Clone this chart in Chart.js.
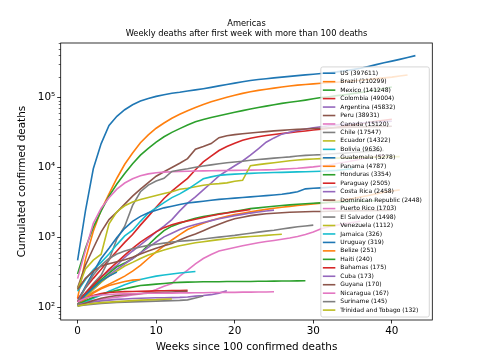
<!DOCTYPE html>
<html lang="en">
<head>
    <meta charset="UTF-8">
    <title>Americas weekly deaths</title>
    <style>
        html, body { margin: 0; padding: 0; background: #fff; }
        #wrap { width: 480px; height: 360px; }
    </style>
</head>
<body>
    <div id="wrap"><canvas id="chart" width="480" height="360"></canvas></div>
    <script src="https://cdn.jsdelivr.net/npm/chart.js@4.4.1/dist/chart.umd.min.js"></script>
    <script>
        // Countries, in legend order
        const countries = ["US", "Brazil", "Mexico", "Colombia", "Argentina", "Peru", "Canada", "Chile",
            "Ecuador", "Bolivia", "Guatemala", "Panama", "Honduras", "Paraguay", "Costa Rica",
            "Dominican Republic", "Puerto Rico", "El Salvador", "Venezuela", "Jamaica", "Uruguay",
            "Belize", "Haiti", "Bahamas", "Cuba", "Guyana", "Nicaragua", "Suriname", "Trinidad and Tobago"];

        // Cumulated deaths, one value per week since the first week over 100 deaths
        const usDeaths = [470, 2400, 9600, 22000, 40000, 54000, 67000, 79000, 89000, 97000, 104000, 110000, 115000, 119000, 124000, 129000, 134000, 140000, 147000, 154000, 161000, 168000, 175000, 181000, 186000, 191000, 196000, 201000, 206000, 211000, 216000, 221000, 227000, 233000, 241000, 251000, 262000, 278000, 296000, 314000, 332000, 352000, 375000, 397611];
        const brazilDeaths = [136, 486, 1223, 2462, 4205, 7025, 11123, 16118, 22666, 29314, 36455, 43332, 50617, 57622, 64867, 72100, 79488, 87004, 94104, 101049, 107852, 114744, 120828, 126650, 131625, 136532, 141406, 146352, 150488, 154176, 157134, 160074, 162628, 165798, 169485, 172833, 176628, 181402, 186764, 191139, 196018, 203100, 210299];
        const mexicoDeaths = [300, 700, 1400, 2400, 3900, 5800, 8200, 11300, 15000, 18800, 23000, 27500, 31800, 36000, 40500, 45000, 48500, 51800, 55000, 58300, 61800, 65000, 68500, 72000, 75500, 79000, 82500, 85500, 88500, 92000, 96000, 100000, 103000, 106500, 110000, 114000, 118500, 123000, 128500, 134500, 141248];
        const colombiaDeaths = [130, 190, 260, 350, 480, 640, 850, 1100, 1500, 2000, 2700, 3600, 4600, 5700, 7000, 9300, 12000, 14500, 17500, 20000, 22300, 24500, 26200, 27500, 28700, 29700, 30600, 31500, 32400, 33300, 34300, 35300, 36400, 37600, 39000, 40600, 42300, 44000, 45700, 47300, 49004];
        const argentinaDeaths = [110, 150, 210, 270, 330, 400, 520, 640, 780, 960, 1200, 1450, 1800, 2400, 3100, 3800, 4800, 6000, 7600, 9000, 10600, 12400, 15000, 18500, 23000, 26500, 30000, 32000, 34000, 35500, 37000, 38300, 39600, 40700, 41700, 42600, 43400, 44100, 44700, 45300, 45832];
        const peruDeaths = [190, 400, 700, 1200, 1800, 2300, 3000, 3900, 4900, 6100, 7500, 8700, 10000, 11500, 13400, 18300, 20000, 22000, 26700, 28500, 29500, 30400, 31200, 31900, 32600, 33400, 34000, 34600, 35100, 35600, 36100, 36500, 36900, 37200, 37500, 37800, 38000, 38200, 38400, 38650, 38931];
        const canadaDeaths = [258, 653, 1590, 2620, 3700, 4900, 6000, 6900, 7600, 8100, 8400, 8600, 8700, 8800, 8850, 8900, 8940, 8980, 9020, 9060, 9100, 9140, 9160, 9200, 9240, 9290, 9480, 9610, 9760, 9970, 10210, 10520, 10890, 11410, 11890, 12470, 13110, 13800, 14480, 15120];
        const chileDeaths = [120, 160, 220, 290, 480, 950, 1450, 2870, 4500, 5600, 6400, 7000, 8800, 9200, 9600, 10100, 10500, 10900, 11300, 11700, 12000, 12300, 12700, 13000, 13300, 13600, 13900, 14200, 14600, 14900, 15100, 15300, 15600, 15850, 16050, 16400, 16700, 17000, 17300, 17547];
        const ecuadorDeaths = [180, 355, 474, 576, 1569, 2334, 2839, 3203, 3486, 3720, 3970, 4256, 4502, 4900, 5063, 5313, 5584, 5767, 5877, 6031, 6352, 6571, 10627, 10996, 11355, 11700, 12100, 12500, 12800, 13050, 13250, 13400, 13520, 13630, 13730, 13820, 13910, 14000, 14080, 14160, 14240, 14322];
        const boliviaDeaths = [170, 250, 345, 440, 580, 790, 1050, 1270, 1700, 2220, 2650, 3150, 3710, 4200, 4880, 5800, 6900, 7340, 7730, 7900, 8050, 8150, 8250, 8330, 8400, 8470, 8530, 8590, 8650, 8710, 8770, 8850, 8960, 9100, 9350, 9636];
        const guatemalaDeaths = [120, 200, 320, 500, 700, 1000, 1350, 1700, 2000, 2250, 2450, 2650, 2800, 2950, 3100, 3200, 3300, 3400, 3500, 3580, 3650, 3720, 3800, 3880, 3960, 4050, 4150, 4300, 4500, 4950, 5050, 5120, 5200, 5278];
        const panamaDeaths = [110, 140, 165, 190, 215, 245, 280, 330, 400, 500, 620, 760, 920, 1100, 1300, 1450, 1600, 1750, 1880, 2000, 2120, 2220, 2320, 2420, 2520, 2620, 2700, 2780, 2860, 2940, 3020, 3100, 3200, 3320, 3450, 3600, 3780, 3980, 4200, 4420, 4620, 4787];
        const hondurasDeaths = [110, 150, 200, 250, 310, 380, 430, 500, 600, 780, 1000, 1250, 1450, 1600, 1750, 1880, 1990, 2080, 2170, 2260, 2360, 2470, 2580, 2650, 2720, 2790, 2860, 2920, 2980, 3030, 3080, 3120, 3160, 3200, 3230, 3260, 3290, 3320, 3354];
        const paraguayDeaths = [120, 160, 210, 270, 350, 440, 560, 700, 860, 1020, 1200, 1380, 1520, 1630, 1720, 1820, 1930, 2040, 2140, 2240, 2330, 2420, 2505];
        const costaRicaDeaths = [110, 140, 180, 230, 290, 350, 420, 500, 600, 720, 860, 1020, 1150, 1300, 1420, 1530, 1640, 1740, 1850, 1950, 2050, 2140, 2230, 2310, 2390, 2458];
        const dominicanDeaths = [180, 260, 330, 390, 420, 450, 480, 520, 580, 640, 700, 760, 820, 920, 1020, 1120, 1250, 1400, 1550, 1700, 1850, 1950, 2050, 2120, 2180, 2220, 2260, 2290, 2310, 2330, 2345, 2355, 2365, 2375, 2385, 2395, 2405, 2415, 2425, 2437, 2448];
        const puertoRicoDeaths = [110, 120, 125, 130, 135, 140, 145, 150, 155, 165, 180, 200, 220, 280, 340, 420, 500, 570, 640, 680, 720, 760, 800, 840, 875, 905, 940, 980, 1030, 1100, 1200, 1330, 1420, 1500, 1570, 1640, 1703];
        const elSalvadorDeaths = [120, 190, 290, 400, 500, 580, 640, 690, 730, 770, 800, 830, 860, 880, 900, 920, 950, 980, 1010, 1040, 1070, 1110, 1150, 1190, 1230, 1270, 1320, 1370, 1420, 1460, 1498];
        const venezuelaDeaths = [110, 140, 180, 230, 280, 330, 390, 440, 500, 560, 610, 660, 710, 760, 800, 840, 870, 900, 930, 960, 990, 1010, 1030, 1050, 1070, 1090, 1112];
        const jamaicaDeaths = [105, 120, 135, 150, 170, 190, 210, 230, 250, 265, 280, 290, 300, 310, 318, 326];
        const uruguayDeaths = [110, 150, 190, 240, 280, 319];
        const belizeDeaths = [110, 130, 160, 185, 205, 220, 235, 245, 251];
        const haitiDeaths = [110, 125, 140, 155, 165, 175, 185, 195, 205, 210, 215, 220, 225, 228, 230, 231, 232, 233, 233, 234, 234, 235, 235, 236, 236, 237, 238, 238, 239, 240];
        const bahamasDeaths = [120, 135, 148, 158, 163, 166, 168, 169, 170, 171, 172, 173, 174, 174, 175];
        const cubaDeaths = [110, 115, 120, 124, 127, 130, 132, 134, 135, 136, 137, 137, 138, 139, 141, 145, 148, 152, 160, 173];
        const guyanaDeaths = [105, 115, 125, 135, 142, 148, 152, 155, 158, 160, 162, 164, 166, 168, 170];
        const nicaraguaDeaths = [120, 135, 145, 150, 153, 155, 156, 157, 158, 159, 159, 160, 160, 161, 161, 162, 162, 163, 163, 164, 164, 165, 165, 166, 166, 167];
        const surinameDeaths = [105, 108, 111, 114, 116, 118, 119, 120, 121, 122, 123, 124, 125, 126, 128, 136, 145];
        const trinidadDeaths = [105, 110, 114, 117, 119, 121, 123, 125, 127, 128, 129, 131, 132];

        const series = [usDeaths, brazilDeaths, mexicoDeaths, colombiaDeaths, argentinaDeaths, peruDeaths,
            canadaDeaths, chileDeaths, ecuadorDeaths, boliviaDeaths, guatemalaDeaths, panamaDeaths,
            hondurasDeaths, paraguayDeaths, costaRicaDeaths, dominicanDeaths, puertoRicoDeaths,
            elSalvadorDeaths, venezuelaDeaths, jamaicaDeaths, uruguayDeaths, belizeDeaths, haitiDeaths,
            bahamasDeaths, cubaDeaths, guyanaDeaths, nicaraguaDeaths, surinameDeaths, trinidadDeaths];

        // Axis ticks
        const xTicks = [0, 10, 20, 30, 40];
        const yMajorTicks = [100, 1000, 10000, 100000];

        const palette = ["#1f77b4", "#ff7f0e", "#2ca02c", "#d62728", "#9467bd",
            "#8c564b", "#e377c2", "#7f7f7f", "#bcbd22", "#17becf"];
        const supers = { 2: "\u00b2", 3: "\u00b3", 4: "\u2074", 5: "\u2075" };

        const yMin = 66, yMax = 603000;
        const yTicks = [];
        for (let d = 1; d <= 5; d++) {
            for (let m = 1; m <= 9; m++) {
                const v = m * Math.pow(10, d);
                if (v >= yMin && v <= yMax) yTicks.push(v);
            }
        }
        const isMajor = v => yMajorTicks.includes(v);

        Chart.defaults.font.family = "'DejaVu Sans', sans-serif";
        Chart.defaults.color = "#000";

        // title, frame, minor ticks and legend box drawn in matplotlib style
        const decorations = {
            id: "decorations",
            afterDatasetsDraw(chart) {
                const { ctx, chartArea } = chart;
                const sets = chart.data.datasets;
                ctx.save();
                ctx.font = "6px 'DejaVu Sans'";
                const tw = Math.max(...sets.map(d => ctx.measureText(d.label).width));
                const rowH = 8.46;
                const h = 13.2 + rowH * (sets.length - 1);
                const w = tw + 27;
                const right = chartArea.right - 3, bottom = chartArea.bottom - 3;
                const left = right - w, top = bottom - h;
                ctx.beginPath();
                if (ctx.roundRect) ctx.roundRect(left, top, w, h, 2); else ctx.rect(left, top, w, h);
                ctx.fillStyle = "rgba(255,255,255,0.8)";
                ctx.fill();
                ctx.strokeStyle = "#cccccc";
                ctx.lineWidth = 0.8;
                ctx.stroke();
                ctx.textBaseline = "middle";
                sets.forEach((d, i) => {
                    const y = top + 6.3 + i * rowH;
                    ctx.strokeStyle = d.borderColor;
                    ctx.lineWidth = 1.6;
                    ctx.beginPath();
                    ctx.moveTo(left + 2, y);
                    ctx.lineTo(left + 14.5, y);
                    ctx.stroke();
                    ctx.fillStyle = "#000";
                    ctx.fillText(d.label, left + 19.5, y);
                });
                ctx.restore();
            },
            afterDraw(chart) {
                const { ctx, chartArea, scales } = chart;
                ctx.save();
                ctx.strokeStyle = "#000";
                ctx.lineWidth = 0.8;
                ctx.strokeRect(chartArea.left, chartArea.top, chartArea.right - chartArea.left, chartArea.bottom - chartArea.top);
                // minor y ticks
                ctx.lineWidth = 0.6;
                ctx.beginPath();
                yTicks.filter(v => !isMajor(v)).forEach(v => {
                    const py = Math.round(scales.y.getPixelForValue(v)) + 0.5;
                    ctx.moveTo(chartArea.left, py);
                    ctx.lineTo(chartArea.left - 2, py);
                });
                ctx.stroke();
                // title
                const cx = (chartArea.left + chartArea.right) / 2;
                ctx.fillStyle = "#000";
                ctx.font = "8.3px 'DejaVu Sans'";
                ctx.textAlign = "center";
                ctx.textBaseline = "middle";
                ctx.fillText("Americas", cx, 24);
                ctx.fillText("Weekly deaths after first week with more than 100 deaths", cx, 34.3);
                ctx.restore();
            }
        };

        const datasets = series.map((vals, i) => ({
            label: countries[i] + " (" + vals[vals.length - 1] + ")",
            data: vals.map((v, w) => ({ x: w, y: v })),
            borderColor: palette[i % 10],
            backgroundColor: palette[i % 10],
            borderWidth: 1.6,
            pointRadius: 0,
            tension: 0,
            fill: false,
            order: series.length - i
        }));

        new Chart(document.getElementById("chart"), {
            type: "line",
            data: { datasets },
            plugins: [decorations],
            options: {
                responsive: false,
                animation: false,
                events: [],
                layout: { padding: { top: 43, right: 47.7, left: 0, bottom: 0 } },
                plugins: {
                    legend: { display: false },
                    tooltip: { enabled: false },
                    title: { display: false }
                },
                scales: {
                    x: {
                        type: "linear",
                        min: -2.15,
                        max: 45.15,
                        afterBuildTicks: s => { s.ticks = xTicks.map(v => ({ value: v })); },
                        afterFit: s => { s.height = 40; },
                        border: { display: false },
                        grid: { drawOnChartArea: false, drawTicks: true, tickLength: 3.5, tickColor: "#000", tickWidth: 0.8 },
                        ticks: { font: { size: 10.4 }, padding: 2, maxRotation: 0, autoSkip: false },
                        title: { display: true, text: "Weeks since 100 confirmed deaths", font: { size: 10.4 }, padding: { top: 1, bottom: 6.8 } }
                    },
                    y: {
                        type: "logarithmic",
                        min: yMin,
                        max: yMax,
                        afterBuildTicks: s => { s.ticks = yTicks.map(v => ({ value: v, major: isMajor(v) })); },
                        afterFit: s => { s.width = 60.7; },
                        border: { display: false },
                        grid: {
                            drawOnChartArea: false, drawTicks: true, tickLength: 3.5, tickWidth: 0.8,
                            tickColor: c => (c.tick && isMajor(c.tick.value)) ? "#000" : "rgba(0,0,0,0)"
                        },
                        ticks: {
                            font: { size: 10.4 },
                            padding: 2,
                            autoSkip: false,
                            callback: v => isMajor(v) ? "10" + supers[Math.round(Math.log10(v))] : ""
                        },
                        title: { display: true, text: "Cumulated confirmed deaths", font: { size: 10.4 }, padding: { top: 15.8, bottom: 4 } }
                    }
                }
            }
        });
    </script>
</body>
</html>
